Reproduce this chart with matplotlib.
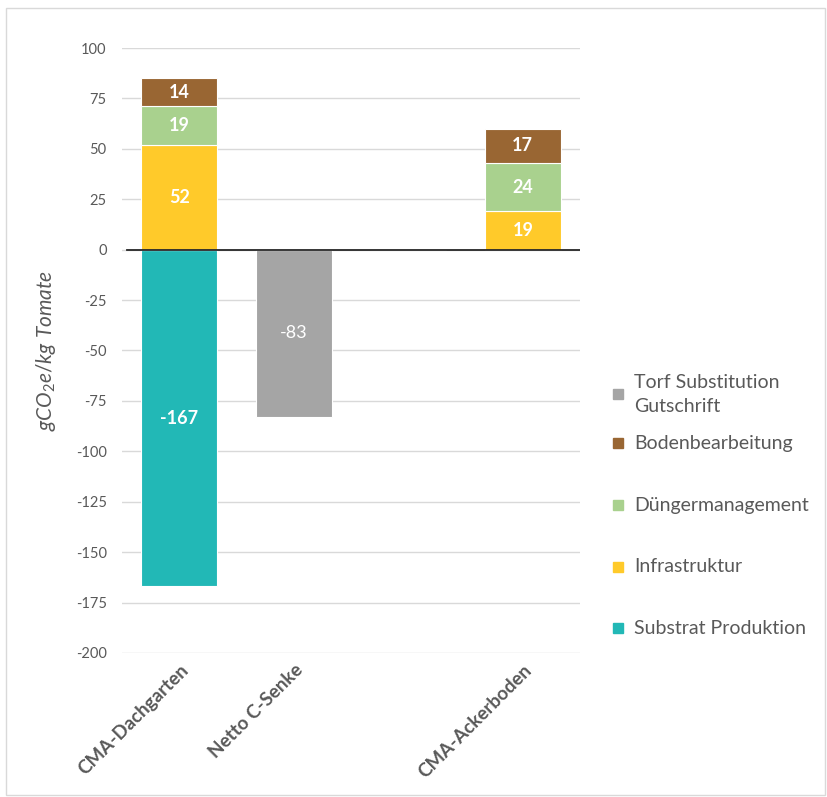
import matplotlib.pyplot as plt
import numpy as np
from matplotlib.patches import Rectangle

plt.rcParams['font.family'] = ['Lato', 'DejaVu Sans']
plt.rcParams['mathtext.fontset'] = 'custom'
plt.rcParams['mathtext.it'] = 'Lato:italic'
plt.rcParams['mathtext.rm'] = 'Lato'
plt.rcParams['axes.unicode_minus'] = False

categories = ["CMA-Dachgarten", "Netto C-Senke", "", "CMA-Ackerboden"]
series_names = ["Substrat Produktion", "Infrastruktur", "Düngermanagement",
                "Bodenbearbeitung", "Torf Substitution\nGutschrift"]
substrat = [-167, 0, 0, 0]
infra = [52, 0, 0, 19]
duenger = [19, 0, 0, 24]
boden = [14, 0, 0, 17]
torf = [0, -83, 0, 0]
colors = ["#22B8B6", "#FFCA2A", "#A9D18E", "#996633", "#A5A5A5"]
y_ticks = list(range(-200, 101, 25))

grey = "#595959"

fig = plt.figure(figsize=(8.27, 7.97), dpi=100)
ax = fig.add_axes([122 / 827, 1 - 653 / 797, 458 / 827, 605 / 797])
fig.patches.append(Rectangle((6 / 827, 2 / 797), 819 / 827, 787 / 797,
                             transform=fig.transFigure, fill=False,
                             edgecolor="#D9D9D9", linewidth=1))

x = np.arange(len(categories))
w = 0.66
pos = [infra, duenger, boden]
pos_colors = colors[1:4]
bottom = np.zeros(len(categories))
for vals, c in zip(pos, pos_colors):
    vals = np.array(vals, dtype=float)
    bars = ax.bar(x, vals, w, bottom=bottom, color=c, edgecolor="white",
                  linewidth=0.8, zorder=3)
    for b, v, b0 in zip(bars, vals, bottom):
        if v:
            ax.text(b.get_x() + w / 2, b0 + v / 2, f"{v:.0f}", ha="center",
                    va="center", color="white", fontsize=13,
                    fontweight="bold", zorder=4)
    bottom += vals

neg = [(substrat, colors[0], "bold"), (torf, colors[4], "normal")]
for vals, c, fw in neg:
    vals = np.array(vals, dtype=float)
    bars = ax.bar(x, vals, w, color=c, edgecolor="white", linewidth=0.8,
                  zorder=3)
    for b, v in zip(bars, vals):
        if v:
            ax.text(b.get_x() + w / 2, v / 2, f"{v:.0f}", ha="center",
                    va="center", color="white", fontsize=13,
                    fontweight=fw, zorder=4)

ax.axhline(0, color="#262626", linewidth=1.3, zorder=5, xmin=0.01)
ax.set_ylim(-200, 100)
ax.set_xlim(-0.5, len(categories) - 0.5)
ax.set_yticks(y_ticks)
ax.yaxis.grid(True, color="#D9D9D9", linewidth=1, zorder=0)
ax.set_axisbelow(True)
for s in ax.spines.values():
    s.set_visible(False)
ax.tick_params(axis="y", length=0, labelsize=10.5, labelcolor=grey, pad=11)
ax.tick_params(axis="x", length=0, pad=6)
ax.set_xticks(x)
ax.set_xticklabels(categories, rotation=45, ha="right",
                   rotation_mode="anchor", fontsize=13.5, fontweight="bold",
                   color=grey)
ax.set_ylabel(r"$gCO_2e/kg\ Tomate$", fontsize=15, color=grey)
ax.yaxis.set_label_coords(-0.14, 0.5)

# legend, Excel style
legend_y = [394, 443, 505, 567, 628]
legend_order = [4, 3, 2, 1, 0]
for yy, i in zip(legend_y, legend_order):
    fig.patches.append(Rectangle((613 / 827, 1 - (yy + 5) / 797), 10 / 827,
                                 10 / 797, transform=fig.transFigure,
                                 color=colors[i]))
    ty = yy if i != 4 else yy - 12
    fig.text(634 / 827, 1 - ty / 797, series_names[i].split("\n")[0],
             fontsize=14, color=grey, va="center")
    if i == 4:
        fig.text(634 / 827, 1 - (ty + 25) / 797,
                 series_names[i].split("\n")[1], fontsize=14, color=grey,
                 va="center")

fig.savefig("out.png", dpi=100)
